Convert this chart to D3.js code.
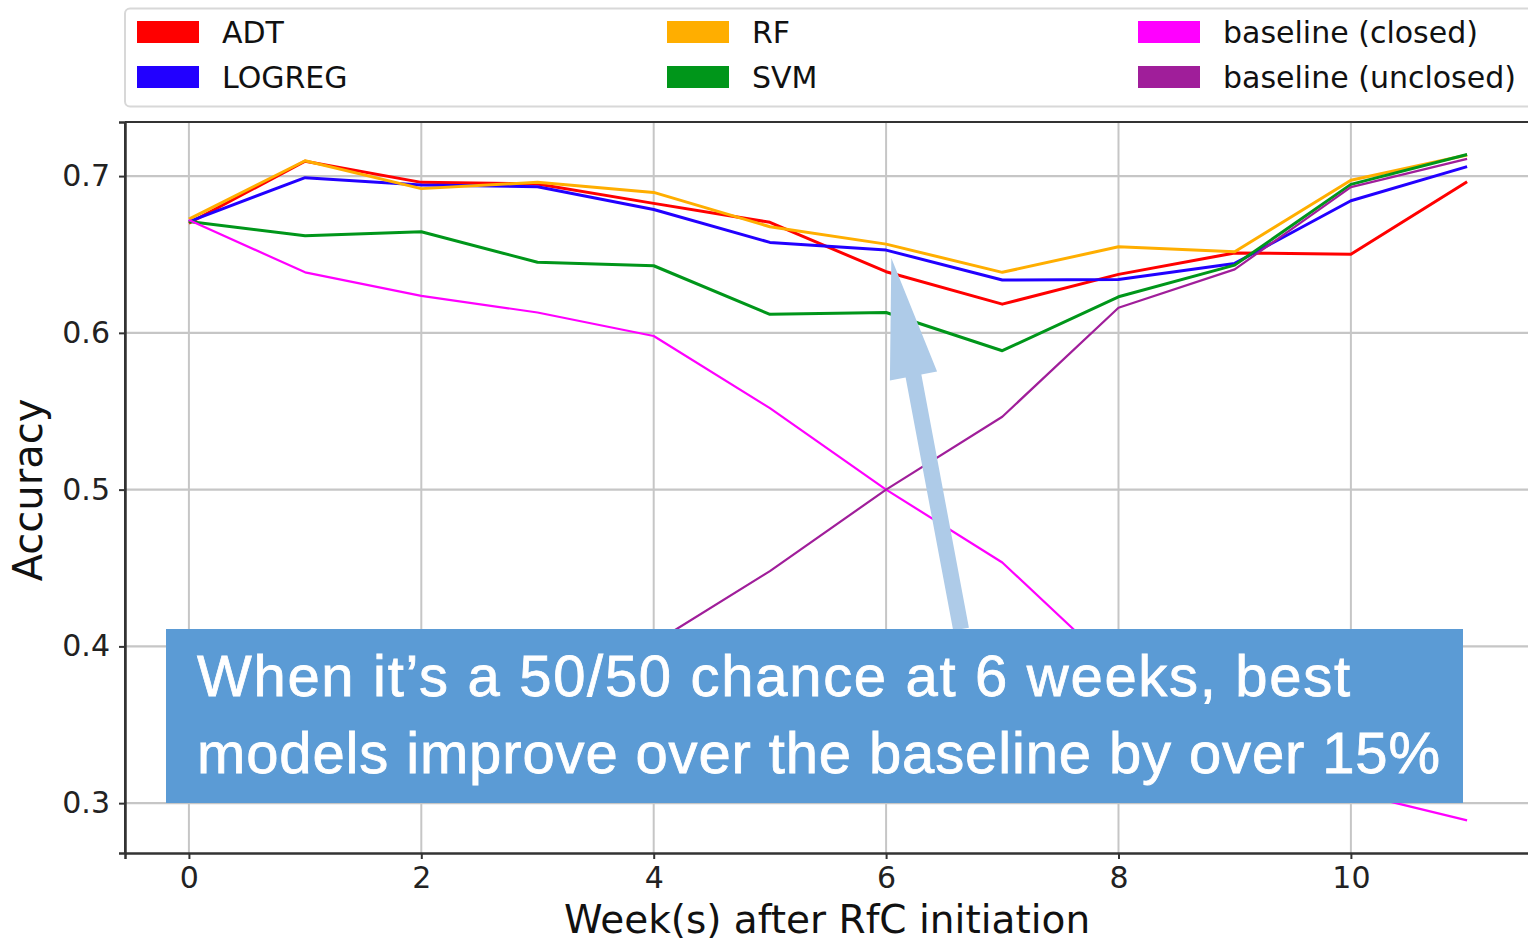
<!DOCTYPE html>
<html>
<head>
<meta charset="utf-8">
<script src="https://cdn.jsdelivr.net/npm/d3@7"></script>
<style>
  html, body { margin: 0; padding: 0; background: #ffffff; overflow: hidden; }
  svg { display: block; }
</style>
</head>
<body>
<svg id="chart" width="1528" height="942"></svg>
<script>
// ---- data ----
const weeks = [0, 1, 2, 3, 4, 5, 6, 7, 8, 9, 10, 11];
const adt      = [0.670, 0.7095, 0.696, 0.695, 0.6826, 0.6705, 0.639, 0.6183, 0.6373, 0.651, 0.6502, 0.6964];
const logreg   = [0.671, 0.699, 0.6943, 0.6932, 0.6787, 0.6577, 0.6528, 0.6337, 0.634, 0.6443, 0.6843, 0.706];
const rf       = [0.6726, 0.7098, 0.692, 0.696, 0.6896, 0.6677, 0.6566, 0.6386, 0.6549, 0.6517, 0.6974, 0.7135];
const svm      = [0.671, 0.662, 0.6645, 0.645, 0.6428, 0.6118, 0.613, 0.5886, 0.623, 0.6432, 0.6947, 0.7138];
const baseClosed   = [0.672, 0.6386, 0.6236, 0.613, 0.598, 0.552, 0.500, 0.4535, 0.384, 0.3595, 0.307, 0.289];
const baseUnclosed = [0.328, 0.3614, 0.3764, 0.387, 0.402, 0.448, 0.500, 0.5465, 0.616, 0.6405, 0.693, 0.711];

const seriesNames  = ["ADT", "LOGREG", "RF", "SVM", "baseline (closed)", "baseline (unclosed)"];
const seriesValues = [adt, logreg, rf, svm, baseClosed, baseUnclosed];
const seriesColors = ["#ff0000", "#2200ff", "#ffae00", "#00961a", "#ff00ff", "#a01e9a"];
const seriesWidths = [3, 3, 3, 3, 2.2, 2.2];

const xTicks = [0, 2, 4, 6, 8, 10];
const yTicks = [0.3, 0.4, 0.5, 0.6, 0.7];
const xLabel = "Week(s) after RfC initiation";
const yLabel = "Accuracy";
const noteLines = ["When it\u2019s a 50/50 chance at 6 weeks, best",
                   "models improve over the baseline by over 15%"];
const noteWidths = [1153, 1243];
// arrow annotation: tail (at note box top) and tip, in data units
const arrowTail = { week: 6.645, acc: 0.411 };
const arrowTip  = { week: 6.045, acc: 0.6477 };

// ---- layout ----
const svg = d3.select("#chart");
const plot = { left: 125, right: 1531, top: 122, bottom: 853 };

const x = d3.scaleLinear().domain([-0.55, 11.55]).range([plot.left, plot.right]);
const y = d3.scaleLinear().domain([0.2682, 0.7345]).range([plot.bottom, plot.top]);

const tickFont = "'DejaVu Sans', sans-serif";

// grid
const grid = svg.append("g");
grid.selectAll("line.gx").data(xTicks).join("line")
  .attr("x1", d => x(d)).attr("x2", d => x(d))
  .attr("y1", plot.top).attr("y2", plot.bottom)
  .attr("stroke", "#c6c6c6").attr("stroke-width", 2);
grid.selectAll("line.gy").data(yTicks).join("line")
  .attr("x1", plot.left).attr("x2", plot.right)
  .attr("y1", d => y(d)).attr("y2", d => y(d))
  .attr("stroke", "#c6c6c6").attr("stroke-width", 2.2);

// lines
const line = d3.line().x((d, i) => x(weeks[i])).y(d => y(d));
svg.append("g").selectAll("path").data(seriesValues).join("path")
  .attr("d", d => line(d))
  .attr("fill", "none")
  .attr("stroke", (d, i) => seriesColors[i])
  .attr("stroke-width", (d, i) => seriesWidths[i])
  .attr("stroke-linejoin", "round");

// spines
svg.append("line").attr("x1", plot.left).attr("x2", plot.right).attr("y1", plot.top).attr("y2", plot.top)
  .attr("stroke", "#333").attr("stroke-width", 2);
svg.append("line").attr("x1", plot.left).attr("x2", plot.left).attr("y1", plot.top).attr("y2", plot.bottom)
  .attr("stroke", "#333").attr("stroke-width", 2);

// axes
const xAxis = svg.append("g").attr("transform", `translate(0,${plot.bottom})`)
  .call(d3.axisBottom(x).tickValues(xTicks).tickFormat(d3.format("d")).tickSize(6).tickPadding(8));
const yAxis = svg.append("g").attr("transform", `translate(${plot.left},0)`)
  .call(d3.axisLeft(y).tickValues(yTicks).tickFormat(d3.format(".1f")).tickSize(6).tickPadding(9));
[xAxis, yAxis].forEach(a => {
  a.selectAll("text").attr("font-family", tickFont).attr("font-size", 30).attr("fill", "#222");
  a.selectAll(".tick line").attr("stroke", "#333").attr("stroke-width", 2);
  a.select(".domain").attr("stroke", "#333").attr("stroke-width", 2.5);
});

// axis labels
svg.append("text").attr("x", 827).attr("y", 933).attr("text-anchor", "middle")
  .attr("font-family", tickFont).attr("font-size", 39).attr("fill", "#111").text(xLabel);
svg.append("text").attr("transform", "translate(42,490) rotate(-90)").attr("text-anchor", "middle")
  .attr("font-family", tickFont).attr("font-size", 40).attr("fill", "#111").text(yLabel);

// legend
const legend = svg.append("g");
legend.append("rect").attr("x", 125).attr("y", 8.5).attr("width", 1420).attr("height", 98)
  .attr("rx", 5).attr("fill", "#fff").attr("stroke", "#d8d8d8").attr("stroke-width", 2);
const colX = [137, 667, 1138];
const rowY = [32, 77];
seriesNames.forEach((name, i) => {
  const col = Math.floor(i / 2), row = i % 2;
  const g = legend.append("g").attr("transform", `translate(${colX[col]},${rowY[row]})`);
  g.append("rect").attr("x", 0).attr("y", -11).attr("width", 62).attr("height", 22)
    .attr("fill", seriesColors[i]);
  g.append("text").attr("x", 85).attr("y", 0).attr("dy", "0.36em")
    .attr("font-family", tickFont).attr("font-size", 30).attr("fill", "#111").text(name);
});

// arrow
(function () {
  const tx = x(arrowTail.week), ty = y(arrowTail.acc);
  const hx = x(arrowTip.week), hy = y(arrowTip.acc);
  const dx = hx - tx, dy = hy - ty, len = Math.hypot(dx, dy);
  const ux = dx / len, uy = dy / len;     // along arrow
  const nx = -uy, ny = ux;                // normal
  const shaftHalf = 8, headHalf = 24, headLen = 120;
  const bx = hx - ux * headLen, by = hy - uy * headLen;
  const pts = [
    [tx + nx * shaftHalf, ty + ny * shaftHalf],
    [bx + nx * shaftHalf, by + ny * shaftHalf],
    [bx + nx * headHalf, by + ny * headHalf],
    [hx, hy],
    [bx - nx * headHalf, by - ny * headHalf],
    [bx - nx * shaftHalf, by - ny * shaftHalf],
    [tx - nx * shaftHalf, ty - ny * shaftHalf]
  ];
  svg.append("path").attr("d", "M" + pts.map(p => p.join(",")).join("L") + "Z")
    .attr("fill", "#aecbe8");
})();

// note box
svg.append("rect").attr("x", 166).attr("y", 629).attr("width", 1297).attr("height", 174)
  .attr("fill", "#5b9bd5");
noteLines.forEach((t, i) => {
  svg.append("text").attr("x", 197).attr("y", 696 + i * 77)
    .attr("font-family", "'Liberation Sans', Arial, sans-serif").attr("font-size", 58)
    .attr("textLength", noteWidths[i]).attr("lengthAdjust", "spacing")
    .attr("stroke", "#ffffff").attr("stroke-width", 0.8)
    .attr("fill", "#ffffff").text(t);
});
</script>
</body>
</html>
